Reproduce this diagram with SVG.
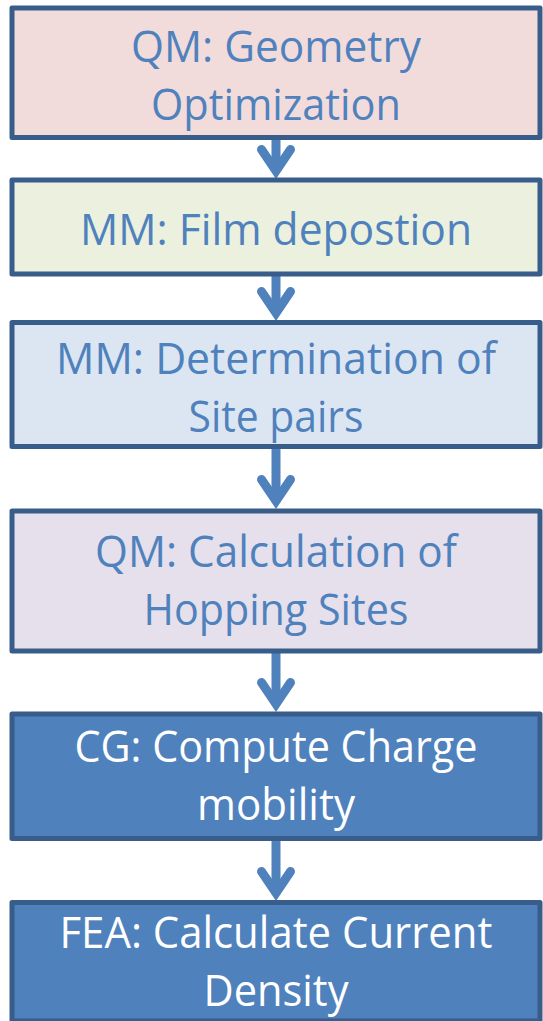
<svg xmlns="http://www.w3.org/2000/svg" xmlns:xlink="http://www.w3.org/1999/xlink" width="543" height="1021" viewBox="0 0 543 1021">
<style>
.box{stroke:#385d8a;stroke-width:5;stroke-linejoin:round}
.t{font-family:"Open Sans","Noto Sans","Liberation Sans",sans-serif;font-size:43px;text-anchor:middle}
.lt{fill:#4f81bd}
.dk{fill:#ffffff}
.shaft{stroke:#4f81bd;stroke-width:9;fill:none}
.head{stroke:#4f81bd;stroke-width:9;fill:none;stroke-linecap:round;stroke-linejoin:miter;stroke-miterlimit:4}
</style>
<defs>
<path id="ah" class="head" d="M-14.5,-21.5 L0,0 L14.5,-21.5"/>
</defs>
<rect width="543" height="1021" fill="#ffffff"/>
<g id="connectors">
<line class="shaft" x1="276" y1="139" x2="276" y2="171"/>
<use xlink:href="#ah" transform="translate(276,171)"/>
<line class="shaft" x1="276" y1="275" x2="276" y2="313"/>
<use xlink:href="#ah" transform="translate(276,313)"/>
<line class="shaft" x1="276" y1="448" x2="276" y2="501"/>
<use xlink:href="#ah" transform="translate(276,501)"/>
<line class="shaft" x1="276" y1="652" x2="276" y2="704"/>
<use xlink:href="#ah" transform="translate(276,704)"/>
<line class="shaft" x1="276" y1="840" x2="276" y2="893"/>
<use xlink:href="#ah" transform="translate(276,893)"/>
</g>
<g id="n1">
<rect class="box" x="12" y="8" width="528" height="129.5" fill="#f2dcdb"/>
<text class="t lt" x="276" y="62" textLength="290" lengthAdjust="spacingAndGlyphs">QM: Geometry</text>
<text class="t lt" x="276" y="120" textLength="250" lengthAdjust="spacingAndGlyphs">Optimization</text>
</g>
<g id="n2">
<rect class="box" x="12" y="180" width="528" height="94" fill="#ebf1de"/>
<text class="t lt" x="276" y="245" textLength="392" lengthAdjust="spacingAndGlyphs">MM: Film depostion</text>
</g>
<g id="n3">
<rect class="box" x="12" y="322.5" width="528" height="124" fill="#dce6f2"/>
<text class="t lt" x="276" y="374" textLength="440" lengthAdjust="spacingAndGlyphs">MM: Determination of</text>
<text class="t lt" x="276" y="432" textLength="175" lengthAdjust="spacingAndGlyphs">Site pairs</text>
</g>
<g id="n4">
<rect class="box" x="12" y="511" width="528" height="140" fill="#e5e0ec"/>
<text class="t lt" x="276" y="567" textLength="362" lengthAdjust="spacingAndGlyphs">QM: Calculation of</text>
<text class="t lt" x="276" y="625" textLength="265" lengthAdjust="spacingAndGlyphs">Hopping Sites</text>
</g>
<g id="n5">
<rect class="box" x="12" y="714" width="528" height="124.5" fill="#4f81bd"/>
<text class="t dk" x="276" y="762" textLength="403" lengthAdjust="spacingAndGlyphs">CG: Compute Charge</text>
<text class="t dk" x="276" y="820" textLength="158" lengthAdjust="spacingAndGlyphs">mobility</text>
</g>
<g id="n6">
<rect class="box" x="12" y="902.5" width="528" height="118.5" fill="#4f81bd"/>
<text class="t dk" x="276" y="948" textLength="433" lengthAdjust="spacingAndGlyphs">FEA: Calculate Current</text>
<text class="t dk" x="276" y="1006" textLength="145" lengthAdjust="spacingAndGlyphs">Density</text>
</g>
</svg>
